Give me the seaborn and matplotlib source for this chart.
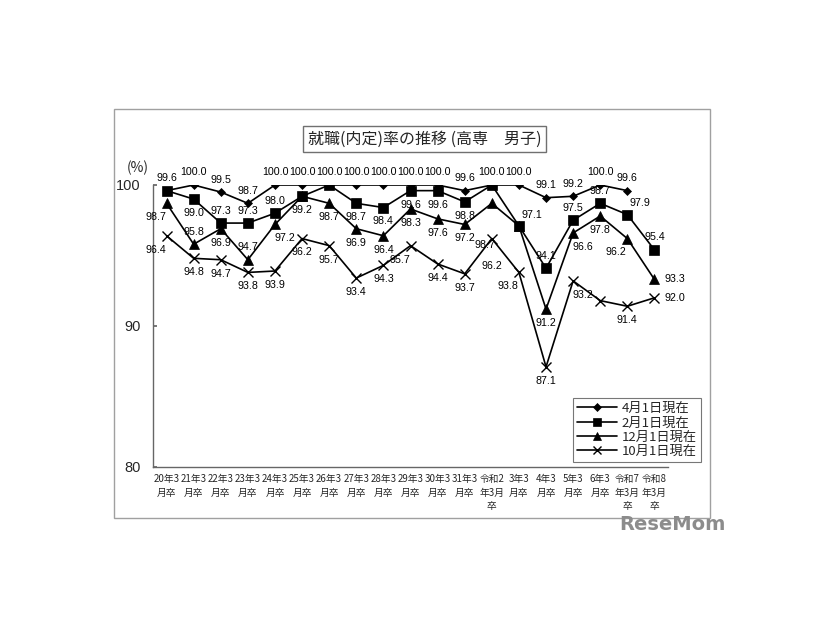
import numpy as np
import pandas as pd
import matplotlib
matplotlib.use('Agg')
import matplotlib.pyplot as plt
import seaborn as sns
from matplotlib.patches import Rectangle
from matplotlib.lines import Line2D

# ---- data ----
categories = ['20年3\n月卒', '21年3\n月卒', '22年3\n月卒', '23年3\n月卒', '24年3\n月卒',
              '25年3\n月卒', '26年3\n月卒', '27年3\n月卒', '28年3\n月卒', '29年3\n月卒',
              '30年3\n月卒', '31年3\n月卒', '令和2\n年3月\n卒', '3年3\n月卒', '4年3\n月卒',
              '5年3\n月卒', '6年3\n月卒', '令和7\n年3月\n卒', '令和8\n年3月\n卒']

apr1 = [99.6, 100.0, 99.5, 98.7, 100.0, 100.0, 100.0, 100.0, 100.0, 100.0,
        100.0, 99.6, 100.0, 100.0, 99.1, 99.2, 100.0, 99.6, np.nan]
feb1 = [99.6, 99.0, 97.3, 97.3, 98.0, 99.2, 100.0, 98.7, 98.4, 99.6,
        99.6, 98.8, 100.0, 97.1, 94.1, 97.5, 98.7, 97.9, 95.4]
dec1 = [98.7, 95.8, 96.9, 94.7, 97.2, 99.2, 98.7, 96.9, 96.4, 98.3,
        97.6, 97.2, 98.7, 97.1, 91.2, 96.6, 97.8, 96.2, 93.3]
oct1 = [96.4, 94.8, 94.7, 93.8, 93.9, 96.2, 95.7, 93.4, 94.3, 95.7,
        94.4, 93.7, 96.2, 93.8, 87.1, 93.2, 91.8, 91.4, 92.0]

series_names = ['4月1日現在', '2月1日現在', '12月1日現在', '10月1日現在']

# label placement codes (''=no label, shared points get one label)
apr_pos = ['a'] * 18 + ['']
feb_pos = ['', 'b', 'a', 'a', 'a', 'b', '', 'b', 'b', 'b', 'b', 'b', '', 'ar', 'a', 'a', 'a', 'ar', 'a']
dec_pos = ['bl', 'a', 'b', 'a', 'br', '', 'b', 'b', 'b', 'b', 'b', 'b', 'bb', '', 'b', 'br', 'b', 'bl', 'r']
oct_pos = ['bl', 'b', 'b', 'b', 'b', 'b', 'b', 'b', 'b', 'bl', 'b', 'b', 'b2', 'bl', 'b', 'br', '', 'b', 'r']

offsets = {'a': (0, 9), 'b': (0, -10), 'bb': (-5, -30), 'b2': (0, -20), 'bl': (-8, -10),
           'br': (7, -10), 'ar': (9, 8), 'r': (15, 0)}

sns.set_theme(style='white')
plt.rcParams['font.family'] = ['Noto Sans CJK JP', 'DejaVu Sans']

fig = plt.figure(figsize=(8.26, 6.2), dpi=100)
ax = fig.add_axes([153 / 826, 1 - 467 / 620, 515 / 826, 282 / 620])

# outer chart frame
fig.patches.append(Rectangle((114 / 826, 1 - 518 / 620), 596 / 826, 409 / 620,
                             transform=fig.transFigure, fill=False,
                             edgecolor='#a0a0a0', linewidth=1.0))

x = np.arange(len(categories))
styles = [('D', 4), ('s', 6.5), ('^', 7), ('x', 7)]
all_series = [apr1, feb1, dec1, oct1]
all_pos = [apr_pos, feb_pos, dec_pos, oct_pos]
num_font = ['Liberation Sans', 'DejaVu Sans']

handles = []
for vals, name, (mk, ms), pos in zip(all_series, series_names, styles, all_pos):
    sns.lineplot(x=x, y=vals, ax=ax, color='black', linewidth=1.2,
                 marker=mk, markersize=ms, markeredgecolor='black',
                 markeredgewidth=1.0 if mk == 'x' else 0.5, legend=False)
    for xi, v, p in zip(x, vals, pos):
        if p == '' or np.isnan(v):
            continue
        dx, dy = offsets[p]
        ax.annotate(f'{v:.1f}', (xi, v), xytext=(dx, dy), textcoords='offset points',
                    ha='center', va='center', fontsize=7.7, color='black', family=num_font)
    handles.append(Line2D([0], [0], color='black', linewidth=1.2, marker=mk,
                          markersize=ms * 0.9, markeredgewidth=1.0 if mk == 'x' else 0.5))

ax.set_xlim(-0.5, len(categories) - 0.5)
ax.set_ylim(80, 100)
ax.set_yticks([80, 90, 100])
ax.set_yticklabels(['80', '90', '100'], fontsize=10.5, family=num_font)
ax.set_xticks(x)
ax.set_xticklabels(categories, fontsize=7, linespacing=1.45)
ax.set_xticks(np.arange(len(categories) + 1) - 0.5, minor=True)
ax.tick_params(axis='x', which='major', length=0, pad=5)
ax.tick_params(axis='x', which='minor', direction='in', length=3, color='#666')
ax.tick_params(axis='y', direction='in', length=3, pad=9, color='#666', left=True)
for side in ['top', 'right']:
    ax.spines[side].set_visible(False)
for side in ['left', 'bottom']:
    ax.spines[side].set_color('#666')
    ax.spines[side].set_linewidth(1.0)
ax.set_xlabel('')
ax.set_ylabel('')
ax.text(-0.029, 1.06, '(%)', transform=ax.transAxes, ha='center', va='center', fontsize=10)

fig.text(0.514, 1 - 139 / 620, '就職(内定)率の推移 (高専　男子)', ha='center', va='center',
         fontsize=11.5, bbox=dict(boxstyle='square,pad=0.3', facecolor='white',
                                  edgecolor='#707070', linewidth=1.0))

leg = ax.legend(handles, series_names, loc='lower right', bbox_to_anchor=(701 / 826, 1 - 462 / 620),
                bbox_transform=fig.transFigure, borderaxespad=0, fontsize=9.5,
                frameon=True, fancybox=False, handlelength=3.0, labelspacing=0.1,
                borderpad=0.3, handletextpad=0.4)
leg.get_frame().set_edgecolor('#555')
leg.get_frame().set_linewidth(0.8)

fig.text(672 / 826, 1 - 525 / 620, 'ReseMom', ha='center', va='center', fontsize=14,
         fontweight='bold', color='#8c8c8c', family='DejaVu Sans')

plt.savefig('out.png', dpi=100)
